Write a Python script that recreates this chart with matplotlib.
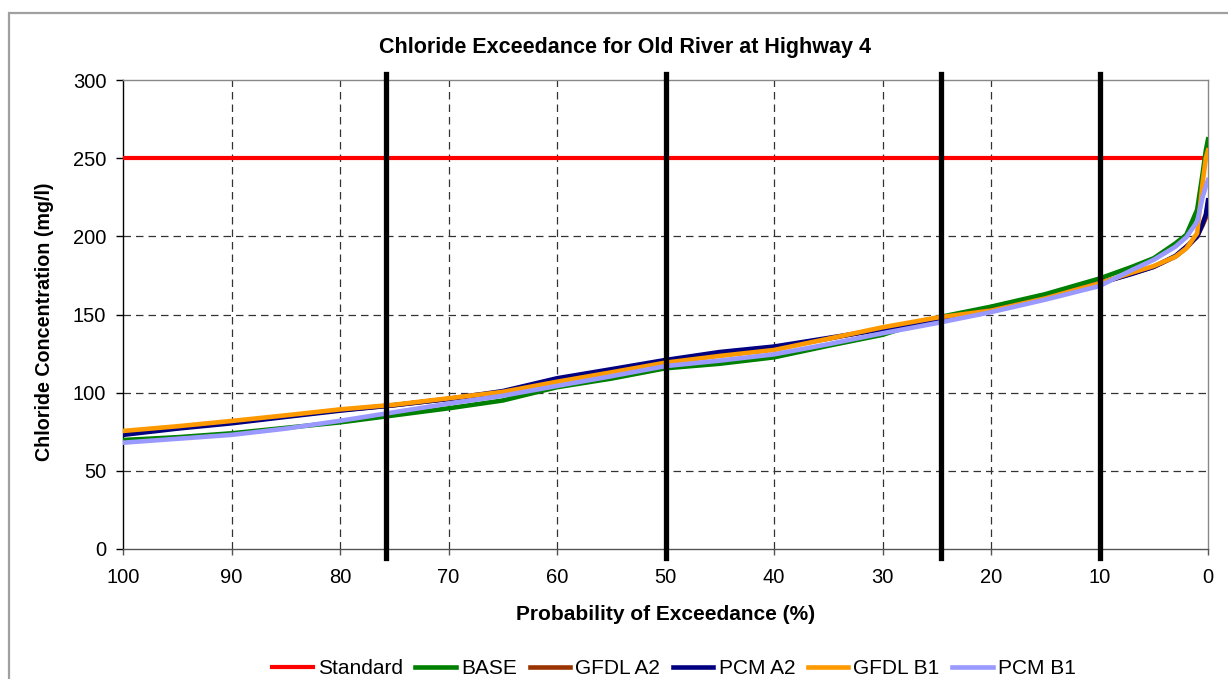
import matplotlib
matplotlib.use('Agg')
import matplotlib.pyplot as plt
import matplotlib.patches as patches
import numpy as np

plt.rcParams['font.family'] = ['Liberation Sans', 'DejaVu Sans']

# probability of exceedance (%)
prob = [100, 95, 90, 85, 80, 75, 70, 65, 60, 55, 50, 45, 40, 35, 30, 25,
        20, 15, 10, 7, 5, 3, 2, 1, 0.5, 0.2, 0]

# chloride concentration (mg/l)
base = [69.7, 71.5, 74, 77.5, 81, 85.5, 90, 95, 103.5, 109, 115.6, 118.5, 122.6,
        130, 137, 148, 155, 163, 173, 180.5, 186, 195.5, 201, 217, 240, 255, 262]
gfdl_a2 = [74, 77.5, 81, 85, 88.8, 92, 96, 100.5, 108, 114, 120, 124.5, 128.5,
           134.5, 141, 147.5, 152.5, 160, 170, 176.2, 180.5, 187, 192.5, 200, 207, 212, 216]
pcm_a2 = [73, 77, 80.4, 84.5, 88.5, 92, 96, 101, 109.2, 115, 120.9, 126, 129.5,
          135, 140.5, 147, 152.5, 160, 170, 176, 180.5, 187.5, 193.4, 199.8, 208, 214, 223]
gfdl_b1 = [75.5, 78.5, 81.9, 85.5, 89.3, 92.3, 96.4, 100.5, 107, 113, 119.2, 123.5, 127.3,
           134.5, 141.8, 148, 152.5, 160.3, 170, 176.8, 181, 187, 192.3, 202, 234, 250, 255]
pcm_b1 = [68, 70.5, 73, 77, 82, 87.5, 93, 98, 104.3, 110.5, 117, 120.5, 124.5,
          131, 138, 144.5, 151.5, 159.5, 168.2, 178.5, 185, 193.4, 199.4, 209.4, 225, 232, 236]

standard_x = [100, 0]
standard_y = [250, 250]

# vertical marker lines
marker_x = [75.8, 50, 24.6, 10]
marker_y = [-6, 304]

series = [
    ('BASE', base, '#008000'),
    ('GFDL A2', gfdl_a2, '#993300'),
    ('PCM A2', pcm_a2, '#000080'),
    ('GFDL B1', gfdl_b1, '#FF9900'),
    ('PCM B1', pcm_b1, '#9999FF'),
]

fig = plt.figure(figsize=(12.28, 6.79), dpi=100)
ax = fig.add_axes([123/1228, 1-549/679, 1085/1228, 469/679])

ax.plot(standard_x, standard_y, color='#FF0000', lw=3, label='Standard', zorder=3)
for name, vals, col in series:
    ax.plot(prob, vals, color=col, lw=3.3, label=name, zorder=3)

for mx in marker_x:
    ax.plot([mx, mx], marker_y, color='black', lw=3.8, clip_on=False, zorder=4)

ax.set_xlim(100, 0)
ax.set_ylim(0, 300)
ax.set_xticks(np.arange(100, -1, -10))
ax.set_yticks(np.arange(0, 301, 50))

for v in range(10, 100, 10):
    ax.axvline(v, color='#333333', lw=0.9, dashes=(6, 4), zorder=1)
for v in range(50, 300, 50):
    ax.axhline(v, color='#333333', lw=0.9, dashes=(6, 4), zorder=1)

ax.spines['left'].set_color('black')
ax.spines['bottom'].set_color('#555555')
ax.spines['top'].set_color('#888888')
ax.spines['right'].set_color('#888888')
for s in ax.spines.values():
    s.set_linewidth(1.0)

ax.tick_params(axis='y', direction='out', length=5, width=1, pad=7, labelsize=14.5)
ax.tick_params(axis='x', direction='out', length=4.5, width=1, pad=9, labelsize=14.5,
               color='#555555')

fig.text(625/1228, 1-48/679, 'Chloride Exceedance for Old River at Highway 4',
         ha='center', va='center', fontsize=15.5, fontweight='bold')
fig.text(45/1228, 1-322/679, 'Chloride Concentration (mg/l)', rotation=90,
         ha='center', va='center', fontsize=14.2, fontweight='bold')
fig.text(666/1228, 1-615/679, 'Probability of Exceedance (%)',
         ha='center', va='center', fontsize=15, fontweight='bold')

fig.legend(loc='center', bbox_to_anchor=(674/1228, 1-669/679), ncol=6, frameon=False,
           fontsize=15, handlelength=1.95, handletextpad=0.25, columnspacing=0.6)

border = patches.Rectangle((9/1228, -0.1), 1.2, 1-13/679+0.1, transform=fig.transFigure,
                           fill=False, edgecolor='#A0A0A0', lw=1.6)
fig.patches.append(border)

fig.savefig('out.png', dpi=100)
